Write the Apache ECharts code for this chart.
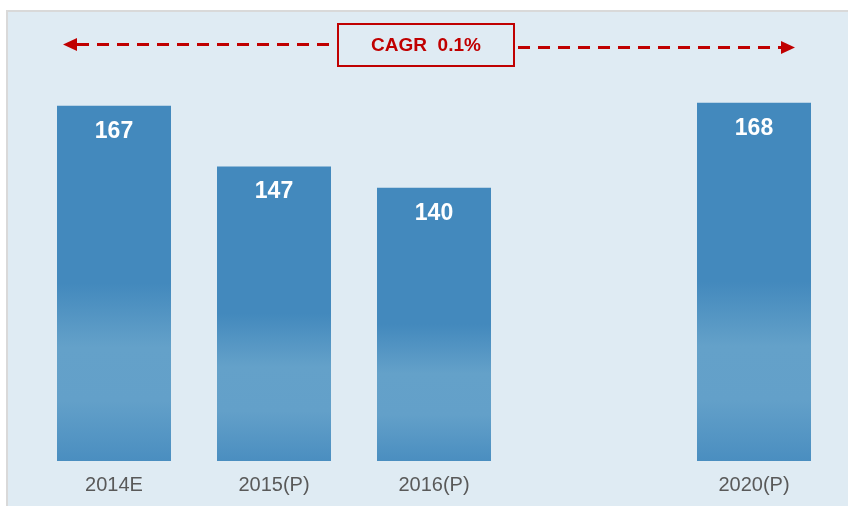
<!DOCTYPE html>
<html>
<head>
<meta charset="utf-8">
<script src="https://cdn.jsdelivr.net/npm/echarts@6/dist/echarts.min.js"></script>
<style>
    html, body { margin: 0; padding: 0; background: #fff; }
    #chart { width: 848px; height: 506px; }
</style>
</head>
<body>
<div id="chart"></div>
<script>
// data
const categories = ['2014E', '2015(P)', '2016(P)', '', '2020(P)']
const values = [167, 147, 140, null, 168]
const cagrText = 'CAGR  0.1%'

const red = '#c00000'
const barGradient = new echarts.graphic.LinearGradient(0, 0, 0, 1, [
    { offset: 0, color: '#4389bd' },
    { offset: 0.5, color: '#4389bd' },
    { offset: 0.68, color: '#64a1c9' },
    { offset: 0.83, color: '#63a0c9' },
    { offset: 1, color: '#4a8ec0' },
])

const myChart = echarts.init(document.getElementById('chart'))
const option = {
    backgroundColor: '#fff',
    animation: false,
    grid: { left: 34, right: 14, top: 36, bottom: 45 },
    xAxis: {
        type: 'category',
        data: categories,
        axisLine: { show: false },
        axisTick: { show: false },
        axisLabel: {
            color: '#595959',
            fontSize: 20,
            fontFamily: 'Liberation Sans, Arial, sans-serif',
            margin: 14,
        },
    },
    yAxis: {
        type: 'value',
        min: 50,
        max: 190,
        show: false,
    },
    graphic: [
        // panel
        {
            type: 'rect',
            z: -10,
            shape: { x: 7, y: 11, width: 860, height: 520 },
            style: { fill: '#dfebf3', stroke: '#d9d9d9', lineWidth: 2 },
        },
        // left arrow
        {
            type: 'line',
            shape: { x1: 77, y1: 44.5, x2: 336, y2: 44.5 },
            style: { stroke: red, lineWidth: 3, lineDash: [12, 8] },
        },
        {
            type: 'polygon',
            shape: { points: [[63, 44.5], [77, 38], [77, 51]] },
            style: { fill: red },
        },
        // right arrow
        {
            type: 'line',
            shape: { x1: 518, y1: 47.5, x2: 781, y2: 47.5 },
            style: { stroke: red, lineWidth: 3, lineDash: [12, 8] },
        },
        {
            type: 'polygon',
            shape: { points: [[795, 47.5], [781, 41], [781, 54]] },
            style: { fill: red },
        },
        // CAGR box
        {
            type: 'rect',
            shape: { x: 338, y: 24, width: 176, height: 42 },
            style: { fill: '#dfebf3', stroke: red, lineWidth: 2 },
        },
        {
            type: 'text',
            x: 426,
            y: 45.5,
            style: {
                text: cagrText,
                fill: red,
                font: 'bold 19px "Liberation Sans", Arial, sans-serif',
                align: 'center',
                verticalAlign: 'middle',
            },
        },
    ],
    series: [
        {
            type: 'bar',
            data: values,
            barWidth: 114,
            itemStyle: { color: barGradient },
            label: {
                show: true,
                position: 'insideTop',
                distance: 14,
                color: '#fff',
                fontSize: 23,
                fontWeight: 'bold',
                fontFamily: 'Liberation Sans, Arial, sans-serif',
            },
        },
    ],
}
myChart.setOption(option)
</script>
</body>
</html>
